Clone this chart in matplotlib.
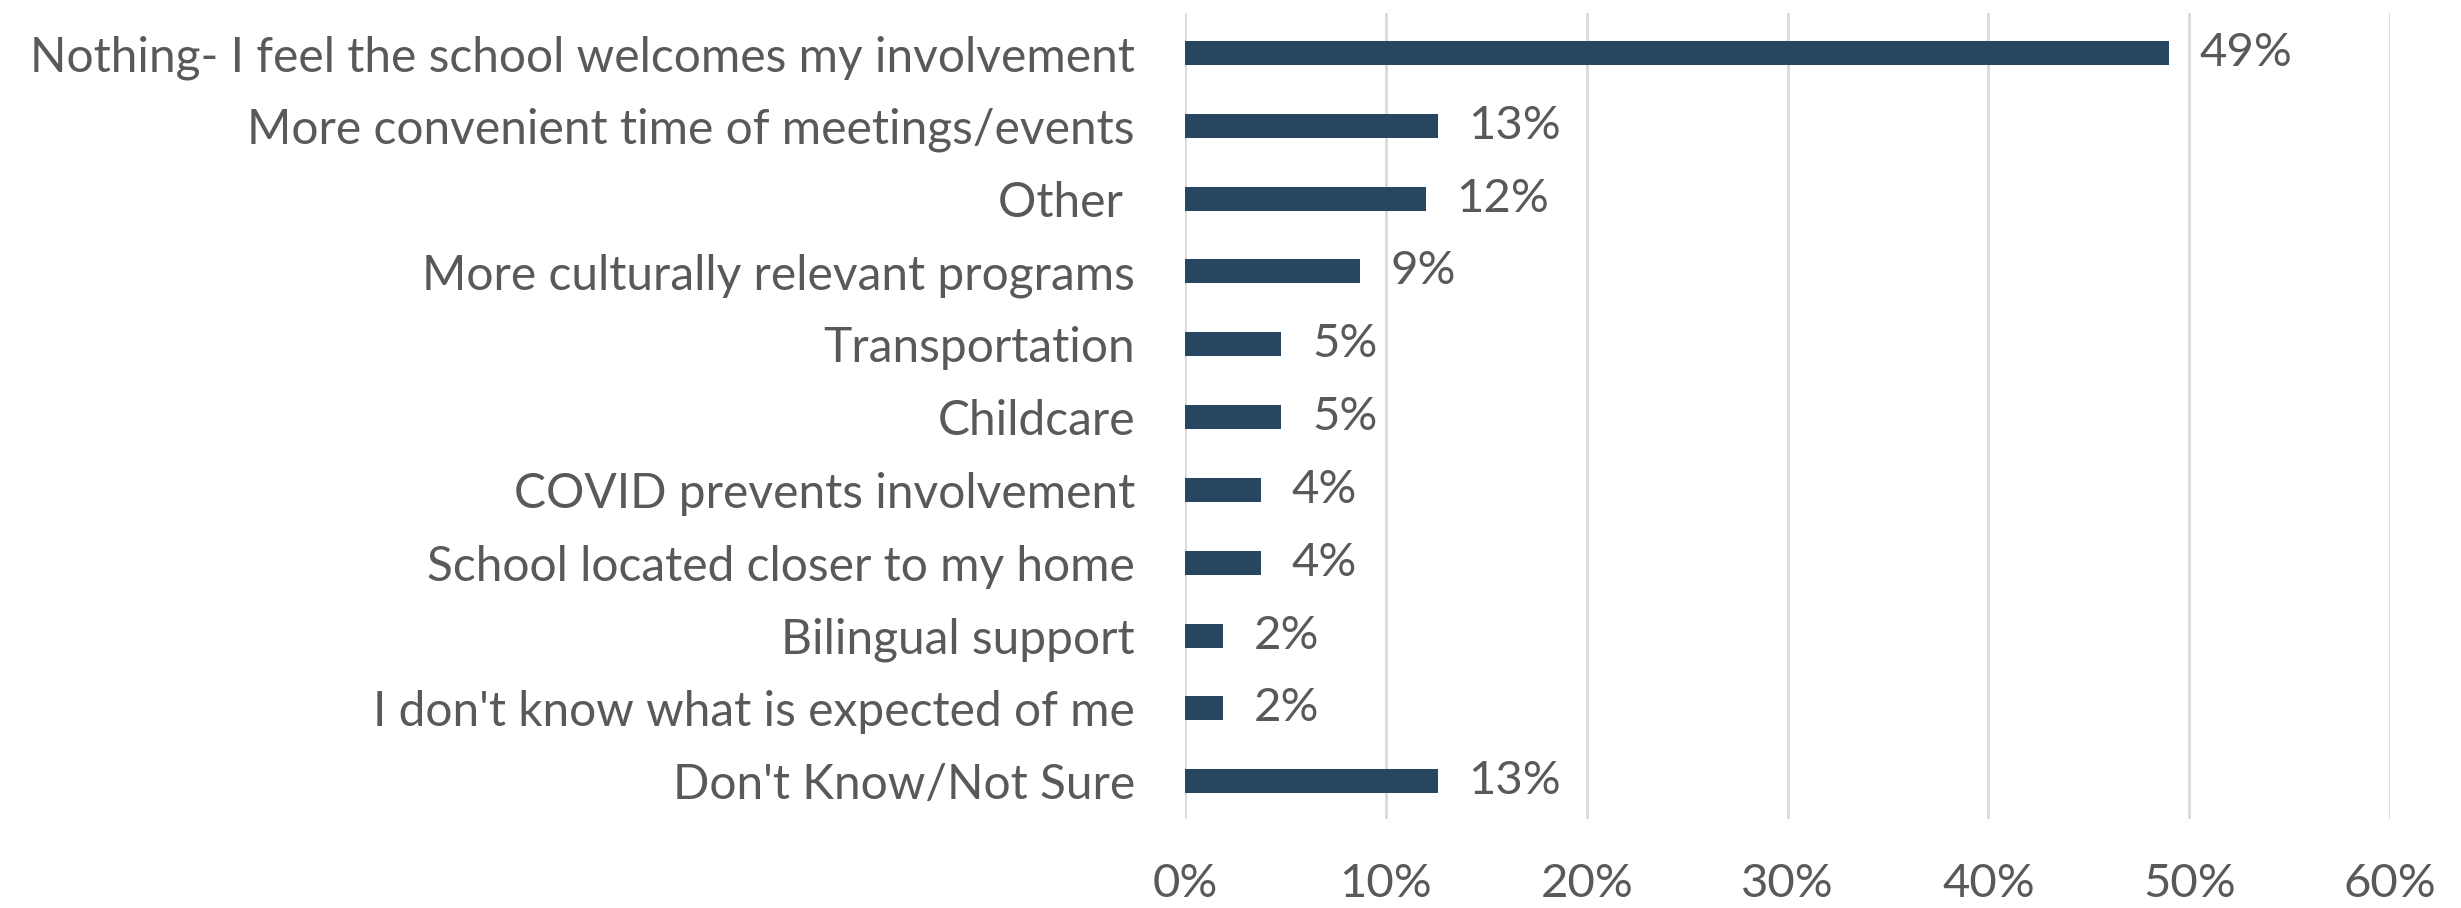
import matplotlib
matplotlib.use("Agg")
import matplotlib.pyplot as plt

# categories, top to bottom
categories = [
    "Nothing- I feel the school welcomes my involvement",
    "More convenient time of meetings/events",
    "Other ",
    "More culturally relevant programs",
    "Transportation",
    "Childcare",
    "COVID prevents involvement",
    "School located closer to my home",
    "Bilingual support",
    "I don't know what is expected of me",
    "Don't Know/Not Sure",
]
values = [0.490, 0.126, 0.120, 0.087, 0.048, 0.048, 0.038, 0.038, 0.019, 0.019, 0.126]
xticks = [0, 0.1, 0.2, 0.3, 0.4, 0.5, 0.6]
xtick_labels = ["0%", "10%", "20%", "30%", "40%", "50%", "60%"]

bar_color = "#264661"
text_color = "#595959"
grid_color = "#d9d9d9"

plt.rcParams['font.family'] = ['Lato', 'DejaVu Sans']

fig = plt.figure(figsize=(24.61, 9.08), dpi=100)
ax = fig.add_axes([0.4815, 0.098, 0.4897, 0.8877])

y = list(range(len(categories)))
ax.barh(y, values, height=0.33, color=bar_color, zorder=3)

# value labels at bar ends
for yi, v in zip(y, values):
    ax.annotate(f"{v * 100:.0f}%", xy=(v, yi), xytext=(22, 0), textcoords="offset points",
                ha="left", va="center", fontsize=34, color=text_color)

ax.set_xlim(0, 0.6)
ax.set_ylim(10.52, -0.55)
ax.set_yticks(y)
ax.set_yticklabels(categories, fontsize=34.5, color=text_color)
ax.set_xticks(xticks)
ax.set_xticklabels(xtick_labels, fontsize=34, color=text_color)
ax.tick_params(axis="both", length=0)
ax.tick_params(axis="y", pad=36)
ax.tick_params(axis="x", pad=32)

ax.grid(axis="x", color=grid_color, linewidth=2, zorder=0)
for s in ax.spines.values():
    s.set_visible(False)

fig.savefig("out.png", dpi=100, facecolor="white")
